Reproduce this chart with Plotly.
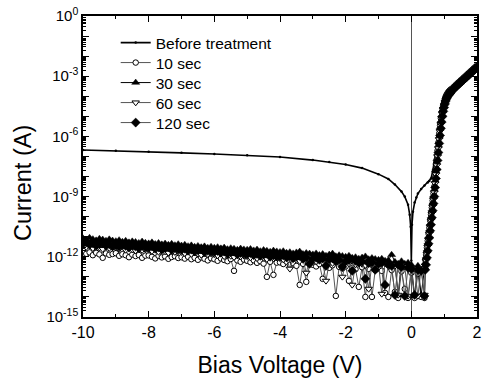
import plotly.graph_objects as go

# ---------------- data (log10 of current in A) ----------------
before_v = [-10, -9, -8, -7, -6, -5, -4, -3, -2.5, -2, -1.5, -1.0, -0.7, -0.5, -0.3, -0.2, -0.1,
            -0.05, -0.02, 0.0, 0.02, 0.05, 0.1, 0.15, 0.2, 0.3, 0.4, 0.5, 0.55, 0.6, 0.65, 0.7,
            0.75, 0.8, 0.85, 0.9, 0.95, 1.0, 1.05, 1.1, 1.2, 1.3, 1.4, 1.6, 1.8, 2.0]
before_log = [-6.68, -6.72, -6.77, -6.82, -6.88, -6.94, -7.03, -7.18, -7.28, -7.40, -7.58, -7.88,
              -8.12, -8.40, -8.75, -9.00, -9.40, -9.90, -10.50, -12.20, -10.40, -9.75, -9.30,
              -9.05, -8.85, -8.62, -8.45, -8.30, -8.22, -8.10, -7.75, -7.30, -6.70, -6.00, -5.30,
              -4.70, -4.35, -4.10, -3.95, -3.85, -3.70, -3.56, -3.42, -3.13, -2.83, -2.52]

treated_v = [-10.0, -9.9, -9.8, -9.7, -9.6, -9.5, -9.4, -9.3, -9.2, -9.1,
             -9.0, -8.9, -8.8, -8.7, -8.6, -8.5, -8.4, -8.3, -8.2, -8.1,
             -8.0, -7.9, -7.8, -7.7, -7.6, -7.5, -7.4, -7.3, -7.2, -7.1,
             -7.0, -6.9, -6.8, -6.7, -6.6, -6.5, -6.4, -6.3, -6.2, -6.1,
             -6.0, -5.9, -5.8, -5.7, -5.6, -5.5, -5.4, -5.3, -5.2, -5.1,
             -5.0, -4.9, -4.8, -4.7, -4.6, -4.5, -4.4, -4.3, -4.2, -4.1,
             -4.0, -3.9, -3.8, -3.7, -3.6, -3.5, -3.4, -3.3, -3.2, -3.1,
             -3.0, -2.9, -2.8, -2.7, -2.6, -2.5, -2.4, -2.3, -2.2, -2.1,
             -2.0, -1.9, -1.8, -1.7, -1.6, -1.5, -1.4, -1.3, -1.2, -1.1,
             -1.0, -0.9, -0.8, -0.7, -0.6, -0.5, -0.4, -0.3, -0.2, -0.1,
             0.0, 0.1, 0.2, 0.3, 0.4,
             0.425, 0.45, 0.475, 0.5, 0.525, 0.55, 0.575, 0.6, 0.625, 0.65, 0.675,
             0.7, 0.725, 0.75, 0.775, 0.8, 0.825, 0.85, 0.875, 0.9, 0.925, 0.95,
             0.975, 1.0, 1.025, 1.05, 1.075, 1.1, 1.125, 1.15, 1.175, 1.2,
             1.25, 1.3, 1.35, 1.4, 1.45, 1.5, 1.55, 1.6, 1.65, 1.7, 1.75, 1.8,
             1.85, 1.9, 1.95, 2.0]

sec10_log = [-11.70, -11.85, -11.78, -11.92, -11.80, -11.88, -12.05, -11.83, -11.90, -11.86,
             -11.82, -11.95, -11.87, -11.92, -12.02, -11.89, -11.96, -11.91, -12.05, -11.94,
             -11.93, -12.00, -12.08, -11.95, -12.03, -11.98, -12.10, -12.01, -11.97, -12.06,
             -12.02, -12.09, -12.00, -12.12, -12.05, -12.15, -12.03, -12.10, -12.18, -12.07,
             -12.12, -12.20, -12.08, -12.16, -12.22, -12.11, -12.70, -12.18, -12.25, -12.14,
             -12.20, -12.27, -12.17, -12.30, -12.22, -12.34, -13.00, -12.25, -12.90, -12.29,
             -12.28, -12.36, -12.24, -12.40, -12.32, -12.45, -13.40, -12.35, -13.25, -12.38,
             -12.40, -12.48, -12.36, -13.10, -12.44, -12.55, -12.42, -13.95, -12.50, -12.58,
             -12.48, -13.20, -12.55, -12.62, -13.50, -12.52, -14.00, -12.60, -14.00, -12.66,
             -12.58, -12.70, -13.80, -14.00, -12.66, -13.75, -14.05, -12.72, -13.60, -14.05,
             -12.80, -14.05, -12.85, -14.00, -14.05,
             -12.15, -11.90, -11.55, -11.20, -10.85, -10.55, -10.20, -9.90, -9.55, -9.20, -8.85,
             -8.50, -8.05, -7.60, -7.15, -6.70, -6.30, -5.85, -5.45, -5.10, -4.80, -4.60,
             -4.42, -4.28, -4.13, -4.02, -3.92, -3.85, -3.79, -3.74, -3.70, -3.66,
             -3.60, -3.52, -3.44, -3.36, -3.29, -3.21, -3.14, -3.06, -2.99, -2.91, -2.84, -2.76,
             -2.69, -2.61, -2.54, -2.46]

sec30_log = [-11.08, -11.15, -11.05, -11.12, -11.18, -11.10, -11.14, -11.20, -11.13, -11.19,
             -11.22, -11.17, -11.25, -11.20, -11.28, -11.23, -11.26, -11.31, -11.24, -11.30,
             -11.33, -11.28, -11.36, -11.31, -11.38, -11.34, -11.40, -11.35, -11.42, -11.37,
             -11.44, -11.40, -11.47, -11.43, -11.50, -11.46, -11.52, -11.48, -11.55, -11.50,
             -11.55, -11.52, -11.58, -11.54, -11.62, -11.57, -11.60, -11.65, -11.59, -11.63,
             -11.65, -11.61, -11.68, -11.64, -11.72, -11.66, -11.70, -11.75, -11.69, -11.73,
             -11.76, -11.72, -11.80, -11.77, -11.83, -11.78, -11.74, -11.86, -11.81, -11.84,
             -11.88, -11.83, -11.91, -11.86, -11.95, -11.89, -11.84, -11.97, -11.92, -11.96,
             -12.00, -11.95, -12.05, -12.02, -12.10, -12.04, -11.98, -12.12, -12.06, -12.11,
             -12.15, -12.10, -12.20, -12.17, -11.90, -12.25, -13.90, -12.22, -12.35, -12.30,
             -12.40, -13.95, -12.45, -13.90, -12.50,
             -12.30, -12.05, -11.70, -11.35, -11.00, -10.70, -10.35, -10.05, -9.70, -9.35, -9.00,
             -8.65, -8.20, -7.75, -7.30, -6.85, -6.45, -6.00, -5.60, -5.25, -4.95, -4.72,
             -4.53, -4.37, -4.21, -4.08, -3.97, -3.89, -3.84, -3.79, -3.74, -3.70,
             -3.63, -3.55, -3.47, -3.39, -3.32, -3.24, -3.17, -3.09, -3.02, -2.94, -2.87, -2.79,
             -2.72, -2.64, -2.57, -2.49]

sec60_log = [-11.45, -11.52, -11.40, -11.58, -11.48, -11.55, -11.62, -11.50, -11.57, -11.53,
             -11.55, -11.62, -11.51, -11.66, -11.58, -11.64, -11.70, -11.60, -11.67, -11.63,
             -11.66, -11.72, -11.62, -11.76, -11.68, -11.74, -11.80, -11.70, -11.77, -11.73,
             -11.77, -11.83, -11.73, -11.87, -11.79, -11.85, -11.91, -11.81, -11.88, -11.84,
             -11.88, -11.94, -11.84, -11.98, -11.90, -11.96, -12.02, -11.92, -11.99, -11.95,
             -11.98, -12.04, -11.94, -12.08, -12.00, -12.06, -12.12, -12.02, -12.09, -12.05,
             -12.08, -12.14, -12.04, -12.60, -12.10, -12.16, -12.22, -12.12, -12.80, -12.15,
             -12.18, -12.24, -12.14, -12.28, -13.20, -12.26, -12.32, -12.22, -12.29, -13.00,
             -12.28, -12.34, -13.40, -12.38, -12.30, -12.36, -12.42, -13.60, -12.39, -12.35,
             -12.38, -13.85, -12.34, -12.48, -12.40, -12.46, -13.90, -12.42, -12.49, -13.95,
             -12.55, -12.60, -13.95, -12.58, -13.90,
             -12.45, -12.20, -11.85, -11.50, -11.15, -10.85, -10.50, -10.20, -9.85, -9.50, -9.15,
             -8.80, -8.35, -7.90, -7.45, -7.00, -6.60, -6.15, -5.75, -5.40, -5.10, -4.85,
             -4.64, -4.47, -4.30, -4.17, -4.06, -3.97, -3.92, -3.87, -3.82, -3.78,
             -3.68, -3.60, -3.52, -3.44, -3.37, -3.29, -3.22, -3.14, -3.07, -2.99, -2.92, -2.84,
             -2.77, -2.69, -2.62, -2.54]

sec120_log = [-11.35, -11.28, -11.40, -11.32, -11.45, -11.37, -11.30, -11.43, -11.38, -11.48,
              -11.42, -11.50, -11.39, -11.46, -11.53, -11.44, -11.49, -11.56, -11.47, -11.52,
              -11.55, -11.48, -11.60, -11.54, -11.63, -11.57, -11.51, -11.65, -11.59, -11.62,
              -11.65, -11.60, -11.70, -11.64, -11.73, -11.67, -11.62, -11.76, -11.70, -11.74,
              -11.76, -11.71, -11.80, -11.74, -11.84, -11.78, -11.73, -11.87, -11.81, -11.85,
              -11.87, -11.82, -11.92, -11.86, -11.95, -11.89, -11.84, -12.00, -11.93, -11.97,
              -11.98, -11.93, -12.03, -11.97, -12.07, -12.00, -11.95, -12.10, -12.04, -12.35,
              -12.10, -12.05, -12.15, -12.09, -12.45, -12.13, -12.08, -12.22, -12.16, -12.50,
              -12.22, -12.17, -12.70, -12.20, -12.30, -12.25, -13.10, -12.32, -12.28, -12.65,
              -12.35, -12.30, -13.40, -12.38, -12.45, -13.90, -12.40, -12.50, -13.95, -12.55,
              -12.60, -13.90, -12.65, -12.70, -13.95,
              -12.65, -12.40, -12.05, -11.70, -11.35, -11.05, -10.70, -10.40, -10.05, -9.70, -9.35,
              -9.00, -8.55, -8.10, -7.65, -7.20, -6.80, -6.35, -5.95, -5.60, -5.28, -5.00,
              -4.75, -4.56, -4.38, -4.24, -4.12, -4.03, -3.97, -3.92, -3.87, -3.82,
              -3.71, -3.63, -3.55, -3.47, -3.40, -3.32, -3.25, -3.17, -3.10, -3.02, -2.95, -2.87,
              -2.80, -2.72, -2.65, -2.57]

series_names = ["Before treatment", "10 sec", "30 sec", "60 sec", "120 sec"]
x_tick_vals = [-10, -8, -6, -4, -2, 0, 2]
x_tick_text = ["-10", "-8", "-6", "-4", "-2", "0", "2"]
y_decades = list(range(0, -16, -1))
y_label_decades = [0, -3, -6, -9, -12, -15]
x_title = "Bias Voltage (V)"
y_title = "Current (A)"

# ---------------- figure ----------------
FONT = "Liberation Sans, Arial, sans-serif"
GRAY = "#555555"
W, H = 487, 378
ML, MR, MT, MB = 83, 10, 16, 61
PLOT_W = W - ML - MR
PLOT_H = H - MT - MB


def to_amps(logs):
    return [10 ** v for v in logs]


styles = [
    dict(line=dict(color="black", width=1.6),
         marker=dict(symbol="circle", size=2.5, color="black")),
    dict(line=dict(color=GRAY, width=1),
         marker=dict(symbol="circle", size=5.5, color="white", line=dict(color="black", width=1))),
    dict(line=dict(color="black", width=1),
         marker=dict(symbol="triangle-up", size=7, color="black", line=dict(color="black", width=0.5))),
    dict(line=dict(color=GRAY, width=1),
         marker=dict(symbol="triangle-down", size=6.5, color="white", line=dict(color="black", width=1))),
    dict(line=dict(color=GRAY, width=1),
         marker=dict(symbol="diamond", size=7, color="black", line=dict(color="black", width=0.5))),
]
xs = [before_v, treated_v, treated_v, treated_v, treated_v]
ys = [before_log, sec10_log, sec30_log, sec60_log, sec120_log]
legend_ids = ["legend", "legend2", "legend3", "legend4", "legend5"]

fig = go.Figure()
for i in range(5):
    fig.add_trace(go.Scatter(
        x=xs[i], y=to_amps(ys[i]), name=series_names[i], mode="lines+markers",
        legend=legend_ids[i], **styles[i],
    ))

y_tick_vals = [10 ** d for d in y_decades]
y_tick_text = [("10<sup>%d</sup>" % d) if d in y_label_decades else "" for d in y_decades]

legend_layout = {}
row_px = [43, 63, 83, 103, 123]  # legend row centres (px from top)
for i, lid in enumerate(legend_ids):
    legend_layout[lid] = dict(
        x=0.083, y=1 - (row_px[i] - MT) / PLOT_H, xanchor="left", yanchor="middle",
        bgcolor="rgba(0,0,0,0)", borderwidth=0,
        font=dict(family=FONT, size=15.5, color="black"),
        itemwidth=30,
    )

fig.update_layout(
    width=W, height=H,
    margin=dict(l=ML, r=MR, t=MT, b=MB, autoexpand=False),
    paper_bgcolor="white", plot_bgcolor="white",
    font=dict(family=FONT, color="black"),
    showlegend=True,
    xaxis=dict(
        range=[-10, 2], tickmode="array", tickvals=x_tick_vals, ticktext=x_tick_text,
        ticks="inside", ticklen=6, tickwidth=1.2, tickcolor="black", automargin=False,
        minor=dict(ticks="inside", ticklen=3, tickwidth=1, tickcolor="black", dtick=1, showgrid=False),
        showline=True, linecolor="black", linewidth=1.5, mirror="ticks",
        showgrid=False, zeroline=True, zerolinecolor="#555555", zerolinewidth=1,
        tickfont=dict(family=FONT, size=16),
        title=dict(text=x_title, font=dict(family=FONT, size=23), standoff=17),
    ),
    yaxis=dict(
        type="log", range=[-15, 0], tickmode="array", tickvals=y_tick_vals, ticktext=y_tick_text,
        ticks="inside", ticklen=6, tickwidth=1.2, tickcolor="black", automargin=False,
        minor=dict(ticks="inside", ticklen=3, tickwidth=0.8, tickcolor="black", dtick="D1", showgrid=False),
        showline=True, linecolor="black", linewidth=1.5, mirror="ticks",
        showgrid=False, zeroline=False,
        tickfont=dict(family=FONT, size=15),
    ),
    annotations=[dict(
        text=y_title, textangle=-90, showarrow=False,
        xref="paper", yref="paper",
        x=(23 - ML) / PLOT_W, y=1 - (183 - MT) / PLOT_H,
        xanchor="center", yanchor="middle",
        font=dict(family=FONT, size=23.5, color="black"),
    )],
    **legend_layout,
)

fig.write_html("out.html", config={"displayModeBar": False},
               post_script="document.body.style.margin='0';")
